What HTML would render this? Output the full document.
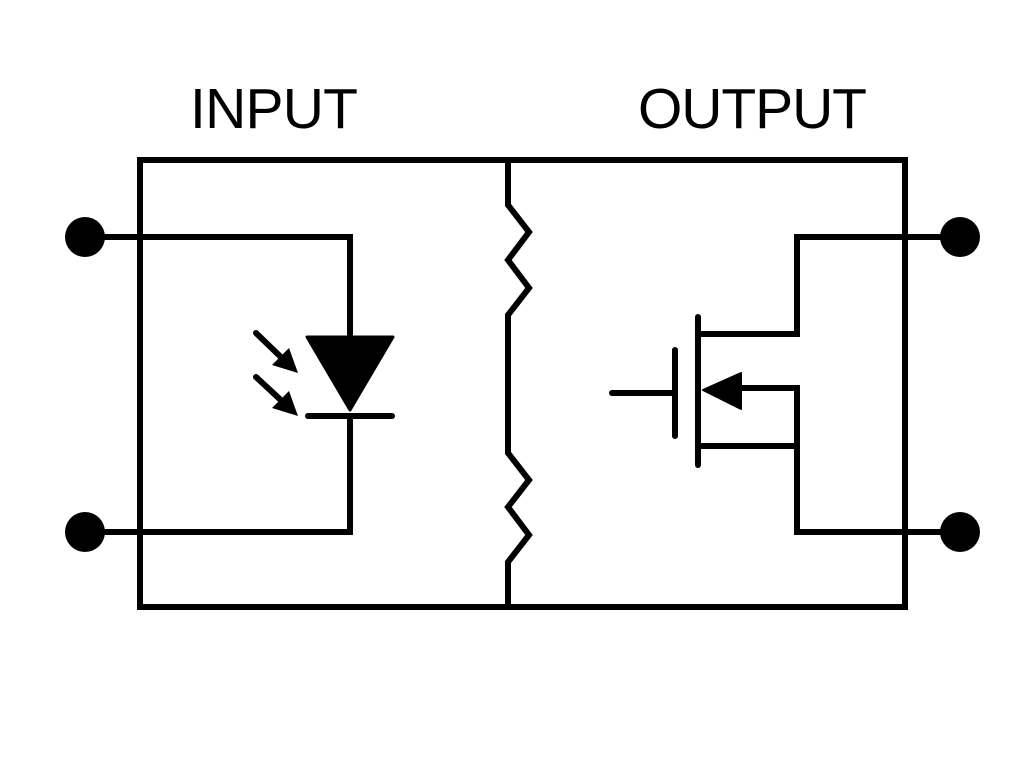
<!DOCTYPE html>
<html><head><style>body{margin:0;background:#fff}</style></head><body>
<svg width="1024" height="768" viewBox="0 0 1024 768" xmlns="http://www.w3.org/2000/svg">
<rect width="1024" height="768" fill="#fff"/>
<g font-family="Liberation Sans, sans-serif" font-size="57" fill="#000">
<text x="190" y="128" textLength="168">INPUT</text>
<text x="638" y="128" textLength="229">OUTPUT</text>
</g>
<g stroke="#000" stroke-width="6" fill="none" stroke-linejoin="miter" stroke-linecap="round">
<rect x="140" y="160" width="765" height="447" stroke-linecap="butt"/>
<polyline points="508,160 508,205 529,232 508,260 529,288 508,315 508,453 529,480 508,507 529,535 508,562 508,607"/>
<polyline points="85,237 350,237 350,340"/>
<polyline points="350,416 350,532 85,532"/>
<line x1="308" y1="416" x2="392" y2="416"/>
<line x1="256" y1="333" x2="284" y2="360"/>
<line x1="256" y1="377" x2="284" y2="403"/>
<line x1="612" y1="393" x2="675" y2="393"/>
<line x1="675" y1="350" x2="675" y2="436"/>
<line x1="698" y1="317" x2="698" y2="465"/>
<polyline points="698,334 797,334 797,237 960,237"/>
<polyline points="735,388 797,388 797,532 960,532"/>
<line x1="698" y1="446" x2="797" y2="446"/>
</g>
<g fill="#000">
<polygon points="307,337 393,337 350,410" stroke="#000" stroke-width="3" stroke-linejoin="round"/>
<polygon points="298,373 272,365 289,348"/>
<polygon points="298,416 272,408 289,391"/>
<polygon points="703,390 741,373 741,409" stroke="#000" stroke-width="2" stroke-linejoin="round"/>
<circle cx="85" cy="237" r="20"/>
<circle cx="85" cy="532" r="20"/>
<circle cx="960" cy="237" r="20"/>
<circle cx="960" cy="532" r="20"/>
</g>
</svg>
</body></html>
